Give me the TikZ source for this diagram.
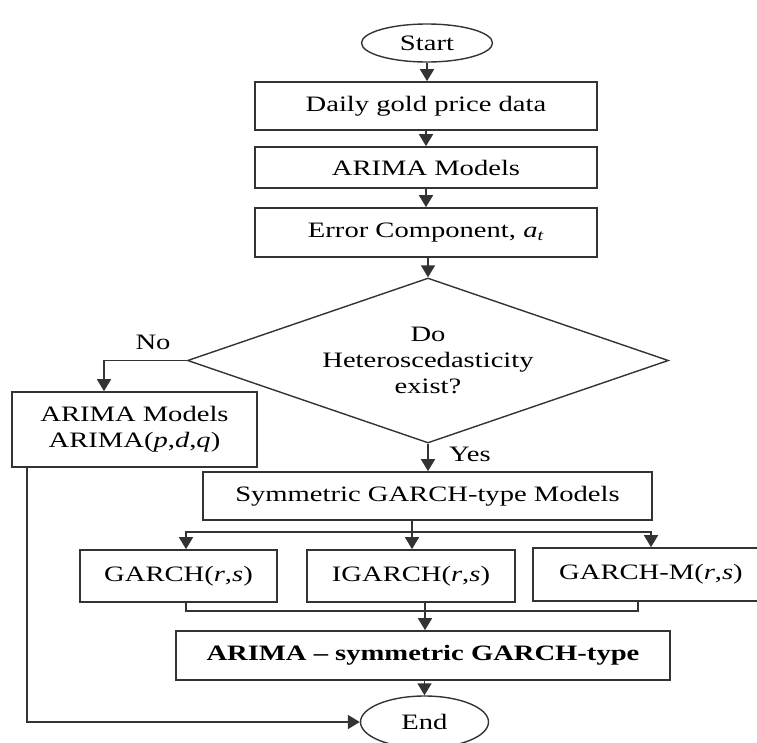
\documentclass[tikz,border=0pt]{standalone}
\usepackage{fontspec}
\setmainfont{Liberation Serif}[FakeStretch=1.3]
\usetikzlibrary{shapes.geometric,arrows.meta}
\begin{document}
\begin{tikzpicture}[x=1pt,y=-1pt,
  txt/.style={font=\fontsize{22}{26}\selectfont, align=center},
  line/.style={draw=black!80, line width=1.7pt},
  arr/.style={line, -{Triangle[width=14pt,length=12pt]}},
  box/.style={txt, draw=black!80, line width=1.7pt, rectangle, inner sep=0pt},
  term/.style={txt, draw=black!80, line width=1.4pt, ellipse, inner sep=0pt},
  decision/.style={txt, draw=black!80, line width=1.4pt, diamond, shape aspect=2.9, inner sep=0pt},
  lbl/.style={txt, inner sep=0pt}
  ]
\useasboundingbox (0,0) rectangle (757,742);

\node[term, minimum width=131pt, minimum height=38pt] (start) at (427,43) {Start};
\node[box, minimum width=342pt, minimum height=48pt] (daily) at (426,106) {Daily gold price data};
\node[box, minimum width=342pt, minimum height=41pt] (arima) at (426,167.5) {ARIMA Models};
\node[box, minimum width=342pt, minimum height=49pt] (error) at (426,232.5) {Error Component, \textit{a}\textsubscript{\textit{t}}};
\node[decision, minimum width=481pt, minimum height=165pt] (dec) at (428,360.5) {Do\\Heteroscedasticity\\exist?};
\node[box, minimum width=245pt, minimum height=75pt] (arimabox) at (134.5,429.5) {ARIMA Models\\ARIMA(\textit{p},\textit{d},\textit{q})};
\node[box, minimum width=449pt, minimum height=48pt] (sym) at (427.5,496) {Symmetric GARCH-type Models};
\node[box, minimum width=197pt, minimum height=52pt] (garch) at (178.5,576) {GARCH(\textit{r},\textit{s})};
\node[box, minimum width=208pt, minimum height=52pt] (igarch) at (411,576) {IGARCH(\textit{r},\textit{s})};
\node[box, minimum width=236pt, minimum height=53pt] (garchm) at (651,574.5) {GARCH-M(\textit{r},\textit{s})};
\node[box, minimum width=494pt, minimum height=49pt] (final) at (423,655.5) {\textbf{ARIMA -- symmetric GARCH-type}};
\node[term, minimum width=128pt, minimum height=52pt] (end) at (424.5,722) {End};

\node[lbl] (no) at (153,342) {No};
\node[lbl] (yes) at (470,454) {Yes};

\draw[arr] (start.south) -- (start.south |- daily.north);
\draw[arr] (daily) -- (arima);
\draw[arr] (arima) -- (error);
\draw[arr] (dec.north |- error.south) -- (dec.north);
\draw[arr] (dec.west) -| ([xshift=-30.5pt]arimabox.north);
\draw[arr] (dec.south) -- (dec.south |- sym.north);

\coordinate (split) at (412,532);
\draw[line] (sym.south -| split) -- (split);
\draw[arr] (split) -| ([xshift=7.5pt]garch.north);
\draw[arr] (split) -- (split |- igarch.north);
\draw[arr] (split) -| (garchm.north);

\coordinate (merge) at (425,611);
\draw[line] ([xshift=7.5pt]garch.south) |- (merge);
\draw[line] ([xshift=-13pt]garchm.south) |- (merge);
\draw[line] (igarch.south -| merge) -- (merge);
\draw[arr] (merge) -- (merge |- final.north);
\draw[arr] (end.north |- final.south) -- (end.north);
\draw[arr] ([xshift=-107.5pt]arimabox.south) |- (end.west);
\end{tikzpicture}
\end{document}
